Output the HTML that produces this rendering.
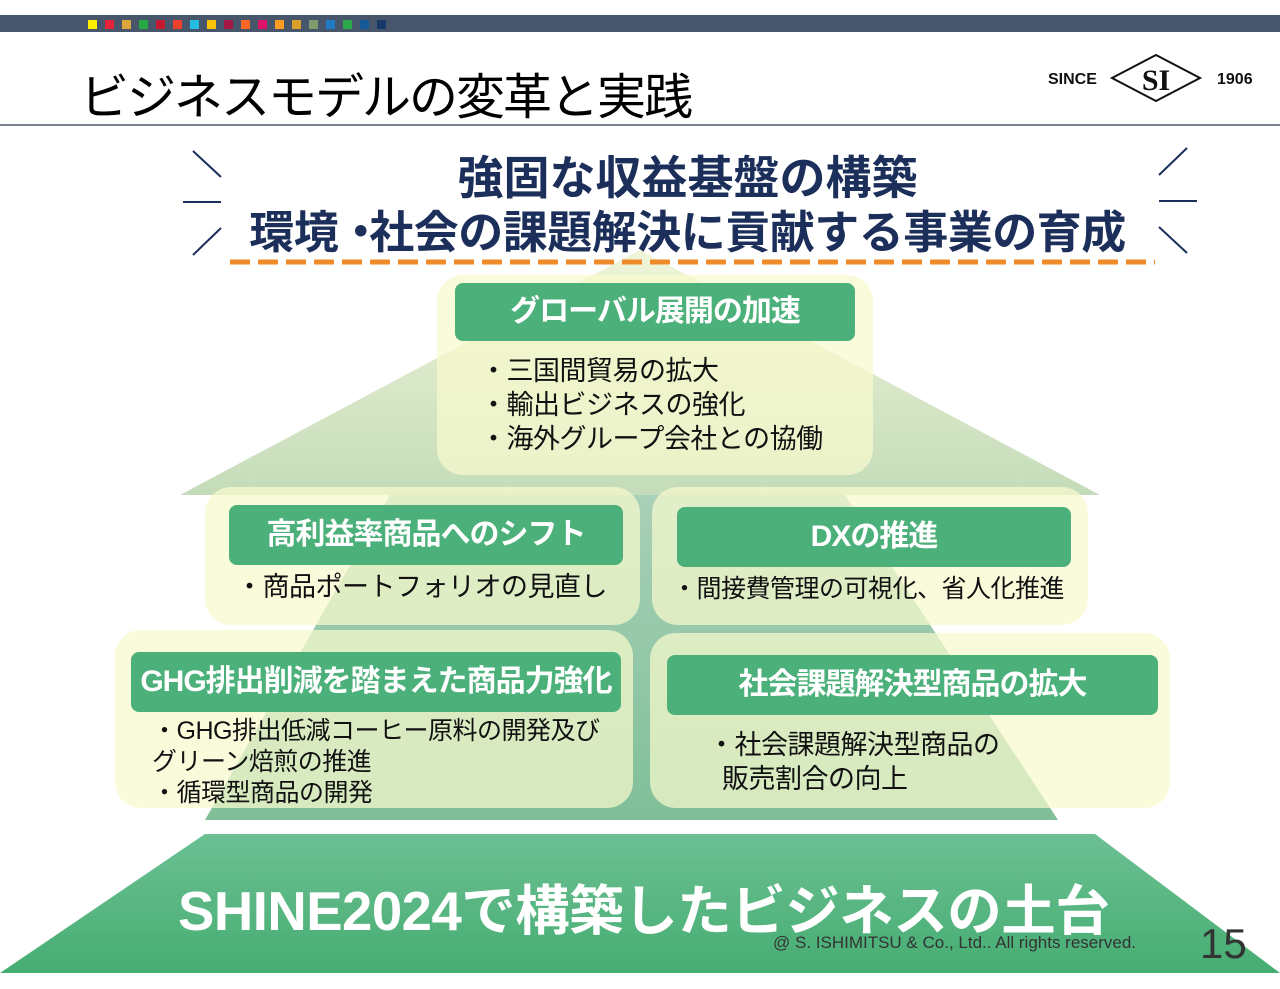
<!DOCTYPE html>
<html><head><meta charset="utf-8"><style>
*{margin:0;padding:0;box-sizing:border-box}
body{width:1280px;height:989px;background:#fff;position:relative;overflow:hidden;font-family:"Liberation Sans","Noto Sans CJK JP",sans-serif}
.abs{position:absolute}
.box{position:absolute;background:rgba(248,250,205,0.72);border-radius:26px}
.lab{position:absolute;background:#4bb07a;border-radius:8px;color:#fff;font-weight:bold;text-align:center;font-size:30px;letter-spacing:-1px}
.txt{position:absolute;color:#111;font-size:27px;line-height:34px;white-space:nowrap;letter-spacing:-0.5px}
</style></head><body>
<div class="abs" style="left:0;top:15px;width:1280px;height:17px;background:#48566b"></div>
<div class="abs" style="left:0;top:124px;width:1280px;height:2px;background:#7a8290"></div>
<svg class="abs" style="left:0;top:0" width="1280" height="989">
<g transform="translate(88,20)">
<rect x="0" width="9" height="9" fill="#ffef00"/><rect x="17" width="9" height="9" fill="#e5243b"/><rect x="34" width="9" height="9" fill="#dda63a"/><rect x="51" width="9" height="9" fill="#26a843"/><rect x="68" width="9" height="9" fill="#c5192d"/><rect x="85" width="9" height="9" fill="#ef402b"/><rect x="102" width="9" height="9" fill="#26bde2"/><rect x="119" width="9" height="9" fill="#fcc30b"/><rect x="136" width="9" height="9" fill="#a21942"/><rect x="153" width="9" height="9" fill="#fd6925"/><rect x="170" width="9" height="9" fill="#dd1367"/><rect x="187" width="9" height="9" fill="#fd9d24"/><rect x="204" width="9" height="9" fill="#d9a02a"/><rect x="221" width="9" height="9" fill="#7f9c6e"/><rect x="238" width="9" height="9" fill="#1f7cc4"/><rect x="255" width="9" height="9" fill="#2aa84a"/><rect x="272" width="9" height="9" fill="#135a96"/><rect x="289" width="9" height="9" fill="#19386a"/>
</g>
<defs>
<linearGradient id="g1" x1="0" y1="0" x2="0" y2="1"><stop offset="0" stop-color="#f0f5d8"/><stop offset="1" stop-color="#c4dcba"/></linearGradient>
<linearGradient id="g2" x1="0" y1="0" x2="0" y2="1"><stop offset="0" stop-color="#a9d0b8"/><stop offset="1" stop-color="#7fbf98"/></linearGradient>
<linearGradient id="g3" x1="0" y1="0" x2="0" y2="1"><stop offset="0" stop-color="#6cc093"/><stop offset="1" stop-color="#46ad72"/></linearGradient>
</defs>
<polygon points="640,250 1100,495 180,495" fill="url(#g1)"/>
<polygon points="390,495 845,495 1058,820 205,820" fill="url(#g2)"/>
<polygon points="205,834 1095,834 1280,973 0,973" fill="url(#g3)"/>
<polygon points="1112,78 1156,55 1200,78 1156,101" fill="none" stroke="#111" stroke-width="2"/>
<text x="1156" y="90" text-anchor="middle" font-family="Liberation Serif" font-weight="bold" font-size="30" fill="#111">SI</text>
<text x="1048" y="84" font-family="Liberation Sans" font-weight="bold" font-size="16" fill="#111">SINCE</text>
<text x="1217" y="84" font-family="Liberation Sans" font-weight="bold" font-size="16" fill="#111">1906</text>
<g stroke="#1b2f5a" stroke-width="2">
<line x1="193" y1="151" x2="221" y2="177"/><line x1="183" y1="202" x2="221" y2="202"/><line x1="193" y1="255" x2="221" y2="228"/>
<line x1="1187" y1="148" x2="1159" y2="175"/><line x1="1159" y1="201" x2="1197" y2="201"/><line x1="1159" y1="227" x2="1187" y2="253"/>
</g>
<line x1="230" y1="262" x2="1155" y2="262" stroke="#ef8a2a" stroke-width="5" stroke-dasharray="20,8"/>
</svg>
<div class="abs" style="left:80px;top:58px;font-size:49px;color:#000;letter-spacing:-2px;white-space:nowrap">ビジネスモデルの変革と実践</div>
<div class="abs" style="left:0;width:1375px;top:142px;text-align:center;font-size:46px;font-weight:bold;color:#1b2f5a;white-space:nowrap">強固な収益基盤の構築</div>
<div class="abs" style="left:0;width:1375px;top:196px;text-align:center;font-size:45px;font-weight:bold;color:#1b2f5a;white-space:nowrap;letter-spacing:-0.5px">環境<span style="letter-spacing:-14px">・</span>&#8203;社会の課題解決に貢献する事業の育成</div>

<div class="box" style="left:437px;top:275px;width:436px;height:200px"></div>
<div class="box" style="left:205px;top:487px;width:435px;height:138px"></div>
<div class="box" style="left:652px;top:487px;width:436px;height:138px"></div>
<div class="box" style="left:115px;top:630px;width:518px;height:178px"></div>
<div class="box" style="left:650px;top:633px;width:520px;height:175px"></div>

<div class="lab" style="left:455px;top:283px;width:400px;height:58px;line-height:58px">グローバル展開の加速</div>
<div class="lab" style="left:229px;top:505px;width:394px;height:60px;line-height:60px">高利益率商品へのシフト</div>
<div class="lab" style="left:677px;top:507px;width:394px;height:60px;line-height:60px">DXの推進</div>
<div class="lab" style="left:131px;top:652px;width:490px;height:60px;line-height:60px">GHG排出削減を踏まえた商品力強化</div>
<div class="lab" style="left:667px;top:655px;width:491px;height:60px;line-height:60px">社会課題解決型商品の拡大</div>

<div class="txt" style="left:480px;top:354px">・三国間貿易の拡大<br>・輸出ビジネスの強化<br>・海外グループ会社との協働</div>
<div class="txt" style="left:236px;top:570px">・商品ポートフォリオの見直し</div>
<div class="txt" style="left:672px;top:572px;font-size:25px">・間接費管理の可視化、省人化推進</div>
<div class="txt" style="left:152px;top:716px;font-size:25px;line-height:31px">・GHG排出低減コーヒー原料の開発及び<br>グリーン焙煎の推進<br>・循環型商品の開発</div>
<div class="txt" style="left:708px;top:728px">・社会課題解決型商品の<br>&nbsp;&nbsp;販売割合の向上</div>

<div class="abs" style="left:178px;top:867px;font-size:54.5px;font-weight:bold;color:#fff;white-space:nowrap;letter-spacing:-0.5px">SHINE2024で構築したビジネスの土台</div>
<div class="abs" style="left:773px;top:933px;font-size:17px;color:#333;white-space:nowrap">@ S. ISHIMITSU &amp; Co., Ltd.. All rights reserved.</div>
<div class="abs" style="left:1200px;top:920px;font-size:42px;color:#333">15</div>
</body></html>
